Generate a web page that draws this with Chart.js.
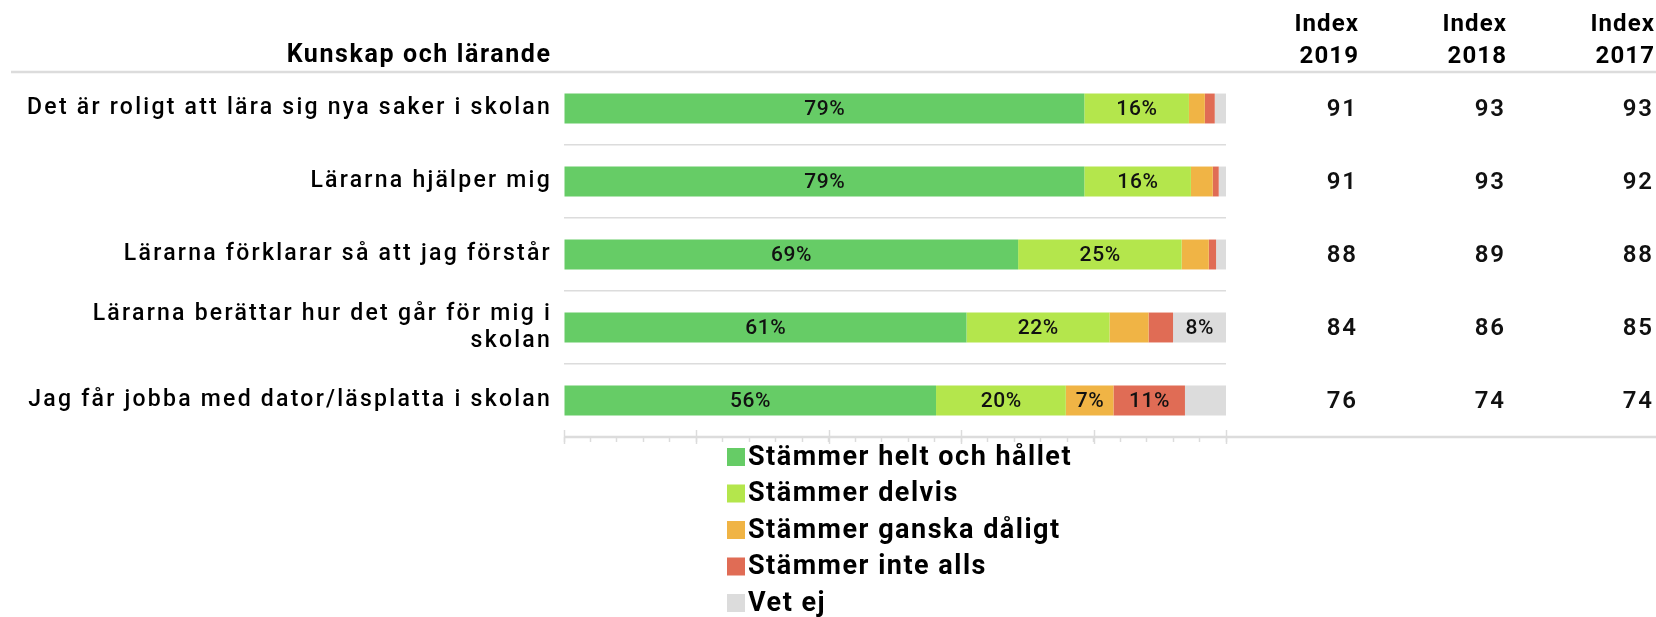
<!DOCTYPE html>
<html><head><meta charset="utf-8">
<script src="https://cdn.jsdelivr.net/npm/chart.js@4.4.1/dist/chart.umd.min.js"></script>
<style>html,body{margin:0;padding:0;background:#fff;} #wrap{width:1656px;height:617px;position:relative;}</style>
</head><body><div id="wrap"><canvas id="c" width="1656" height="617"></canvas></div>
<script>
// ---- data ----
const sectionTitle = 'Kunskap och lärande';
const categories = [
  'Det är roligt att lära sig nya saker i skolan',
  'Lärarna hjälper mig',
  'Lärarna förklarar så att jag förstår',
  ['Lärarna berättar hur det går för mig i', 'skolan'],
  'Jag får jobba med dator/läsplatta i skolan'
];
const seriesNames = ['Stämmer helt och hållet', 'Stämmer delvis', 'Stämmer ganska dåligt', 'Stämmer inte alls', 'Vet ej'];
const heltOchHallet = [78.6, 78.6, 68.6, 60.8, 56.2];
const delvis        = [15.8, 16.1, 24.7, 21.6, 19.6];
const ganskaDaligt  = [2.4, 3.3, 4.1, 5.9, 7.2];
const inteAlls      = [1.5, 0.9, 1.1, 3.7, 10.8];
const vetEj         = [1.7, 1.1, 1.5, 8.0, 6.2];
const indexHeader = 'Index';
const indexYears = ['2019', '2018', '2017'];
const index2019 = [91, 91, 88, 84, 76];
const index2018 = [93, 93, 89, 86, 74];
const index2017 = [93, 92, 88, 85, 74];
const majorTicks = [0, 20, 40, 60, 80, 100];

// ---- styles ----
const seriesColors = ['#66cc66', '#b4e64c', '#f0b445', '#e06c55', '#dcdcdc'];
const FONT = 'Roboto, "Liberation Sans", sans-serif';
const LINE = '#dcdcdc';

function txt(ctx, s, x, y, font, align, spacing, color) {
  ctx.save();
  ctx.font = font;
  ctx.fillStyle = color || '#000';
  ctx.textAlign = align;
  ctx.textBaseline = 'middle';
  ctx.letterSpacing = spacing + 'px';
  let dx = 0;
  if (align === 'right') dx = spacing; else if (align === 'center') dx = spacing / 2;
  ctx.fillText(s, x + dx, y);
  ctx.restore();
}

const barLabels = {
  id: 'barLabels',
  afterDatasetsDraw(chart) {
    const ctx = chart.ctx;
    chart.data.datasets.forEach((ds, i) => {
      chart.getDatasetMeta(i).data.forEach((el, j) => {
        const v = ds.data[j];
        if (Math.round(v) >= 7) {
          txt(ctx, Math.round(v) + '%', (el.x + el.base) / 2, el.y + 1, '500 21px ' + FONT, 'center', 0.6, '#111');
        }
      });
    });
  }
};

const decor = {
  id: 'decor',
  beforeDraw(chart) { chart.ctx.letterSpacing = '2.25px'; },
  afterDraw(chart) {
    const ctx = chart.ctx;
    ctx.letterSpacing = '0px';
    const ca = chart.chartArea;
    const xs = chart.scales.x, ys = chart.scales.y;
    ctx.save();
    ctx.strokeStyle = LINE;
    ctx.lineWidth = 2.5;
    ctx.beginPath(); ctx.moveTo(11, ca.top); ctx.lineTo(chart.width, ca.top); ctx.stroke();
    ctx.beginPath(); ctx.moveTo(ca.left, ca.bottom); ctx.lineTo(chart.width, ca.bottom); ctx.stroke();
    ctx.lineWidth = 1.5;
    majorTicks.forEach(v => {
      const px = Math.round(xs.getPixelForValue(v)) + 0.5;
      ctx.beginPath(); ctx.moveTo(px, ca.bottom - 7); ctx.lineTo(px, ca.bottom + 7); ctx.stroke();
    });
    ctx.restore();

    txt(ctx, sectionTitle, 550, 56, '700 25px ' + FONT, 'right', 1.6, '#000');
    const colRight = [1358, 1506, 1654];
    const idx = [index2019, index2018, index2017];
    indexYears.forEach((yr, k) => {
      txt(ctx, indexHeader, colRight[k], 25, '700 24px ' + FONT, 'right', 1.1, '#000');
      txt(ctx, yr, colRight[k], 57, '700 24px ' + FONT, 'right', 1.1, '#000');
      idx[k].forEach((v, j) => {
        txt(ctx, String(v), colRight[k] - 2, ys.getPixelForValue(j) + 1, '600 24px ' + FONT, 'right', 1.8, '#111');
      });
    });

    // legend
    chart.data.datasets.forEach((ds, i) => {
      const y = 457 + i * 36.5;
      ctx.fillStyle = ds.backgroundColor;
      ctx.fillRect(727, y - 9, 18, 18);
      txt(ctx, ds.label, 748, y + 1, '700 27px ' + FONT, 'left', 1.5, '#000');
    });
  }
};

const seriesData = [heltOchHallet, delvis, ganskaDaligt, inteAlls, vetEj];
new Chart(document.getElementById('c'), {
  type: 'bar',
  data: {
    labels: categories,
    datasets: seriesNames.map((n, i) => ({
      label: n,
      data: seriesData[i],
      backgroundColor: seriesColors[i],
      borderWidth: 0,
      barPercentage: 0.41,
      categoryPercentage: 1
    }))
  },
  options: {
    indexAxis: 'y',
    responsive: false,
    animation: false,
    events: [],
    layout: { padding: { left: 0, right: 430, top: 72, bottom: 180 } },
    plugins: { legend: { display: false }, tooltip: { enabled: false } },
    scales: {
      x: {
        stacked: true, min: 0, max: 100,
        ticks: { display: false, stepSize: 4 },
        grid: { drawOnChartArea: false, drawTicks: true, tickLength: 5, color: LINE, tickWidth: 1.5 },
        border: { display: false },
        afterFit(s) { s.height = 0; }
      },
      y: {
        stacked: true,
        ticks: { color: '#000', padding: 12, font: { family: FONT, size: 23, weight: '500', lineHeight: 1.18 } },
        grid: { drawTicks: false, color: LINE, lineWidth: 1.5 },
        border: { display: false },
        afterFit(s) { s.width = 564; }
      }
    }
  },
  plugins: [barLabels, decor]
});
</script>
</body></html>
